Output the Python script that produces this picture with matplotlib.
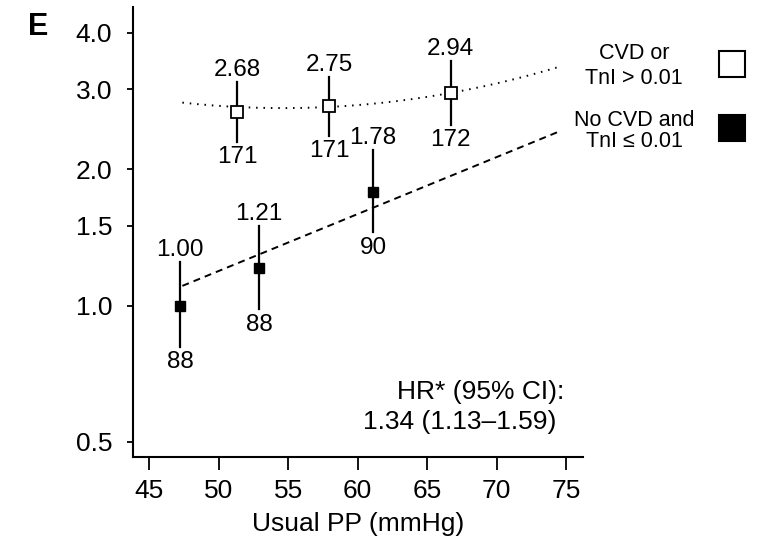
import numpy as np
import matplotlib
matplotlib.use("Agg")
import matplotlib.pyplot as plt

plt.rcParams['font.family'] = ['Liberation Sans', 'DejaVu Sans']

# --- data ---
cvd_x = [51.35, 57.95, 66.7]
cvd_hr = [2.68, 2.75, 2.94]
cvd_lo = [2.30, 2.37, 2.50]
cvd_hi = [3.12, 3.20, 3.47]
cvd_n = [171, 171, 172]

nocvd_x = [47.25, 52.9, 61.1]
nocvd_hr = [1.00, 1.21, 1.78]
nocvd_lo = [0.81, 0.98, 1.45]
nocvd_hi = [1.25, 1.50, 2.21]
nocvd_n = [88, 88, 90]

# trend lines (read points)
dash_x = [47.4, 74.6]
dash_y = [1.105, 2.43]
dot_x = [47.4, 57.0, 66.7, 74.6]
dot_y = [2.80, 2.75, 2.93, 3.38]

yticks = [0.5, 1.0, 1.5, 2.0, 3.0, 4.0]
ytick_labels = ["0.5", "1.0", "1.5", "2.0", "3.0", "4.0"]
xticks = [45, 50, 55, 60, 65, 70, 75]

W, H = 760, 551
fig = plt.figure(figsize=(W / 100, H / 100), dpi=100)
ax = fig.add_axes([133 / W, 1 - 457 / H, (583 - 133) / W, (457 - 7) / H])

ax.set_yscale('log')
ax.set_xlim(43.85, 76.2)
ax.set_ylim(0.463, 4.56)

# trend lines
ax.plot(dash_x, dash_y, color='black', lw=1.4, ls=(0, (3.6, 2.6)), zorder=1)
coef = np.polyfit(dot_x, np.log(dot_y), 2)
xs = np.linspace(min(dot_x), max(dot_x), 200)
ax.plot(xs, np.exp(np.polyval(coef, xs)), color='black', lw=1.4,
        ls=(0, (0.8, 3.0)), zorder=1)

vfs = 17.5
fs = 19
# CVD series (open squares)
for x, hr, lo, hi, n in zip(cvd_x, cvd_hr, cvd_lo, cvd_hi, cvd_n):
    ax.plot([x, x], [lo, hi], color='black', lw=1.6, zorder=2)
    ax.annotate(f"{hr:.2f}", (x, hi), xytext=(0, 4), textcoords='offset points',
                ha='center', va='baseline', fontsize=vfs)
    ax.annotate(f"{n}", (x, lo), xytext=(0, -3), textcoords='offset points',
                ha='center', va='top', fontsize=vfs)
ax.plot(cvd_x, cvd_hr, ls='none', marker='s', ms=8, mfc='white', mec='black',
        mew=1.3, zorder=3)

# No CVD series (filled squares)
for x, hr, lo, hi, n in zip(nocvd_x, nocvd_hr, nocvd_lo, nocvd_hi, nocvd_n):
    ax.plot([x, x], [lo, hi], color='black', lw=1.6, zorder=2)
    ax.annotate(f"{hr:.2f}", (x, hi), xytext=(0, 4), textcoords='offset points',
                ha='center', va='baseline', fontsize=vfs)
    ax.annotate(f"{n}", (x, lo), xytext=(0, -3), textcoords='offset points',
                ha='center', va='top', fontsize=vfs)
ax.plot(nocvd_x, nocvd_hr, ls='none', marker='s', ms=7, mfc='black', mec='black',
        zorder=3)

# axes styling
ax.spines['top'].set_visible(False)
ax.spines['right'].set_visible(False)
for s in ('left', 'bottom'):
    ax.spines[s].set_linewidth(1.5)
ax.set_yticks(yticks)
ax.set_yticklabels(ytick_labels)
ax.yaxis.set_minor_locator(matplotlib.ticker.NullLocator())
ax.set_xticks(xticks)
ax.tick_params(axis='y', length=4, width=1.3, labelsize=fs, pad=11)
ax.tick_params(axis='x', length=9, width=1.3, labelsize=fs, pad=7)
ax.set_xlabel("Usual PP (mmHg)", fontsize=fs, labelpad=6)

# HR annotation
fig.text(481 / W, 1 - 399 / H, "HR* (95% CI):", ha='center', va='baseline', fontsize=fs)
fig.text(460 / W, 1 - 429 / H, "1.34 (1.13\u20131.59)", ha='center', va='baseline', fontsize=fs)

# legend (manual)
lfs = 15.5
fig.text(634 / W, 1 - 59 / H, "CVD or", ha='center', va='baseline', fontsize=lfs)
fig.text(634 / W, 1 - 84 / H, "TnI > 0.01", ha='center', va='baseline', fontsize=lfs)
fig.text(634 / W, 1 - 126 / H, "No CVD and", ha='center', va='baseline', fontsize=lfs)
fig.text(634 / W, 1 - 147 / H, "TnI \u2264 0.01", ha='center', va='baseline', fontsize=lfs)
fig.lines.append(matplotlib.lines.Line2D([732 / W], [1 - 64 / H], transform=fig.transFigure,
                                         marker='s', ms=18.5, mfc='white', mec='black', mew=1.5, ls='none'))
fig.lines.append(matplotlib.lines.Line2D([732 / W], [1 - 128 / H], transform=fig.transFigure,
                                         marker='s', ms=18.5, mfc='black', mec='black', mew=1.5, ls='none'))

# panel letter
fig.text(28 / W, 1 - 35 / H, "E", ha='left', va='baseline', fontsize=22, fontweight='bold')

fig.savefig("out.png", dpi=100)
